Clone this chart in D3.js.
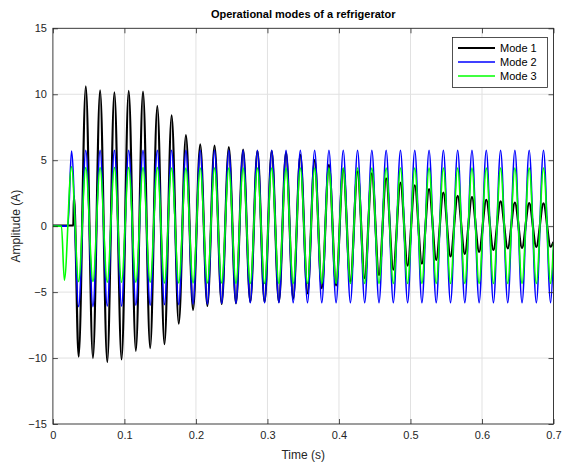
<!DOCTYPE html>
<html>
<head>
<meta charset="utf-8">
<script src="https://cdn.jsdelivr.net/npm/d3@7"></script>
<style>
  html, body { margin: 0; padding: 0; background: #fff; }
  svg { display: block; font-family: "Liberation Sans", Arial, Helvetica, sans-serif; }
</style>
</head>
<body>
<svg id="chart" width="563" height="464"></svg>
<script>
// ---------------- DATA ----------------
const chartTitle = "Operational modes of a refrigerator";
const xLabel = "Time (s)";
const yLabel = "Amplitude (A)";
const seriesNames = ["Mode 1", "Mode 2", "Mode 3"];
const xTicks = [0, 0.1, 0.2, 0.3, 0.4, 0.5, 0.6, 0.7];
const yTicks = [-15, -10, -5, 0, 5, 10, 15];
const halfPeriod = 0.01; // 50 Hz mains: extrema every 10 ms

// Mode 1: flat lead-in points [t, value], then alternating extrema from t = 0.036 (trough first)
const mode1Lead = [[0, 0.05], [0.0285, 0.05], [0.0295, 2.3]];
const mode1FirstExtremum = 0.036;
const mode1Extrema = [
  -9.9, 10.6, -10.0, 10.3, -10.3, 10.15, -10.1, 10.25, -9.45, 10.2,
  -9.25, 9.1, -8.95, 8.4, -7.4, 6.9, -6.35, 6.2, -6.05, 6.1,
  -5.9, 6.0, -5.85, 5.8, -5.75, 5.7, -5.75, 5.7, -5.75, 5.6,
  -5.5, 5.4, -5.1, 5.0, -4.7, 4.65, -4.5, 4.35, -4.2, 4.15,
  -3.95, 4.0, -3.7, 3.63, -3.3, 3.3, -3.0, 3.1, -2.85, 2.8,
  -2.55, 2.55, -2.3, 2.3, -2.1, 2.2, -1.95, 2.0, -1.8, 1.88,
  -1.68, 1.78, -1.65, 1.75, -1.58, 1.72, -1.56
];
const mode1End = [0.7, -1.2];

// Mode 2: flat lead-in, then alternating extrema from t = 0.026 (peak first)
const mode2Lead = [[0, 0], [0.021, 0]];
const mode2FirstExtremum = 0.026;
const mode2Extrema = [
  5.7, -6.1, 5.75, -6.1, 5.75, -6.05, 5.75, -6.05, 5.75, -6.0,
  5.75, -6.0, 5.75, -5.95, 5.75, -5.95, 5.75, -5.9, 5.75, -5.9,
  5.75, -5.85, 5.75, -5.85, 5.75, -5.8, 5.75, -5.8, 5.75, -5.8,
  5.75, -5.8, 5.75, -5.8, 5.75, -5.8, 5.75, -5.8, 5.75, -5.8,
  5.75, -5.8, 5.75, -5.8, 5.75, -5.8, 5.75, -5.8, 5.75, -5.8,
  5.75, -5.8, 5.75, -5.8, 5.75, -5.8, 5.75, -5.8, 5.75, -5.8,
  5.75, -5.8, 5.75, -5.8, 5.75, -5.8, 5.75, -5.8
];
const mode2End = [0.7, -1.8];

// Mode 3: flat lead-in, then alternating extrema from t = 0.016 (trough first)
const mode3Lead = [[0, 0], [0.012, 0]];
const mode3FirstExtremum = 0.016;
const mode3Extrema = [
  -4.1, 4.5, -4.2, 4.45, -4.2, 4.45, -4.25, 4.45, -4.25, 4.45,
  -4.25, 4.45, -4.25, 4.45, -4.3, 4.4, -4.3, 4.4, -4.3, 4.4,
  -4.3, 4.4, -4.3, 4.4, -4.35, 4.4, -4.35, 4.4, -4.35, 4.4,
  -4.35, 4.4, -4.35, 4.4, -4.35, 4.4, -4.35, 4.4, -4.35, 4.4,
  -4.35, 4.4, -4.35, 4.4, -4.35, 4.4, -4.35, 4.4, -4.35, 4.4,
  -4.35, 4.4, -4.35, 4.4, -4.35, 4.4, -4.35, 4.4, -4.35, 4.4,
  -4.35, 4.4, -4.35, 4.4, -4.35, 4.4, -4.35, 4.4, -4.35
];
const mode3End = [0.7, -1.3];

const seriesColors = ["#000000", "#0000ff", "#00ff00"];
const seriesWidths = [2.2, 1.6, 1.6];

// ---------------- BUILD ----------------
function buildSeries(lead, firstT, extrema, end) {
  const pts = lead.map(p => ({t: p[0], v: p[1]}));
  extrema.forEach((v, i) => pts.push({t: firstT + i * halfPeriod, v: v}));
  pts.push({t: end[0], v: end[1]});
  return pts;
}
const series = [
  buildSeries(mode1Lead, mode1FirstExtremum, mode1Extrema, mode1End),
  buildSeries(mode2Lead, mode2FirstExtremum, mode2Extrema, mode2End),
  buildSeries(mode3Lead, mode3FirstExtremum, mode3Extrema, mode3End)
];

const svg = d3.select("#chart");
const L = 52.9, R = 553.5, T = 28.3, B = 424;
const x = d3.scaleLinear().domain([0, 0.7]).range([L, R]);
const y = d3.scaleLinear().domain([-15, 15]).range([B, T]);
const axisColor = "#262626";

svg.append("rect").attr("x", 0).attr("y", 0).attr("width", 563).attr("height", 464).attr("fill", "#fff");
svg.append("rect").attr("x", L).attr("y", T).attr("width", R - L).attr("height", B - T).attr("fill", "#fff");

// grid
const grid = svg.append("g").attr("stroke", "#e1e1e1").attr("stroke-width", 1);
grid.selectAll(".gx").data(xTicks.slice(1, -1)).enter().append("line")
  .attr("x1", d => x(d)).attr("x2", d => x(d)).attr("y1", T).attr("y2", B);
grid.selectAll(".gy").data(yTicks.slice(1, -1)).enter().append("line")
  .attr("y1", d => y(d)).attr("y2", d => y(d)).attr("x1", L).attr("x2", R);

// lines
svg.append("clipPath").attr("id", "clip").append("rect")
  .attr("x", L).attr("y", T).attr("width", R - L).attr("height", B - T);
const line = d3.line().x(d => x(d.t)).y(d => y(d.v)).curve(d3.curveMonotoneX);
const lines = svg.append("g").attr("clip-path", "url(#clip)");
series.forEach((s, i) => {
  lines.append("path").datum(s).attr("d", line)
    .attr("fill", "none").attr("stroke", seriesColors[i])
    .attr("stroke-width", seriesWidths[i]).attr("stroke-linejoin", "round");
});

// axes
const fmtX = d => d === 0 ? "0" : d3.format(".1f")(d);
function styleAxis(g) {
  g.select(".domain").remove();
  g.selectAll(".tick line").attr("stroke", axisColor).attr("stroke-width", 0.8);
  g.selectAll("text").attr("fill", axisColor).attr("font-size", "11px")
    .attr("font-family", "'Liberation Sans', Arial, sans-serif");
}
svg.append("g").attr("transform", `translate(0,${B})`)
  .call(d3.axisBottom(x).tickValues(xTicks).tickFormat(fmtX).tickSize(-5).tickPadding(7))
  .call(styleAxis);
svg.append("g").attr("transform", `translate(0,${T})`)
  .call(d3.axisTop(x).tickValues(xTicks).tickFormat("").tickSize(-5))
  .call(styleAxis);
svg.append("g").attr("transform", `translate(${L},0)`)
  .call(d3.axisLeft(y).tickValues(yTicks).tickFormat(d3.format("d")).tickSize(-5).tickPadding(6))
  .call(styleAxis);
svg.append("g").attr("transform", `translate(${R},0)`)
  .call(d3.axisRight(y).tickValues(yTicks).tickFormat("").tickSize(-5))
  .call(styleAxis);

// box
svg.append("rect").attr("x", L).attr("y", T).attr("width", R - L).attr("height", B - T)
  .attr("fill", "none").attr("stroke", axisColor).attr("stroke-width", 0.9);

// labels
svg.append("text").attr("x", (L + R) / 2).attr("y", 18).attr("text-anchor", "middle")
  .attr("font-weight", "bold").attr("font-size", "11px").attr("fill", "#000").text(chartTitle);
svg.append("text").attr("x", (L + R) / 2).attr("y", 459).attr("text-anchor", "middle")
  .attr("font-size", "12px").attr("fill", axisColor).text(xLabel);
svg.append("text").attr("transform", `translate(20,${(T + B) / 2}) rotate(-90)`)
  .attr("text-anchor", "middle").attr("font-size", "12px").attr("fill", axisColor).text(yLabel);

// legend
const lg = svg.append("g");
lg.append("rect").attr("x", 452.5).attr("y", 37.5).attr("width", 95).attr("height", 50)
  .attr("fill", "#fff").attr("stroke", axisColor).attr("stroke-width", 0.8);
seriesNames.forEach((n, i) => {
  const yy = 48 + i * 14;
  lg.append("line").attr("x1", 458).attr("x2", 495).attr("y1", yy).attr("y2", yy)
    .attr("stroke", seriesColors[i]).attr("stroke-width", seriesWidths[i]);
  lg.append("text").attr("x", 500).attr("y", yy).attr("dy", "0.35em")
    .attr("font-size", "11px").attr("fill", "#000").text(n);
});
</script>
</body>
</html>
